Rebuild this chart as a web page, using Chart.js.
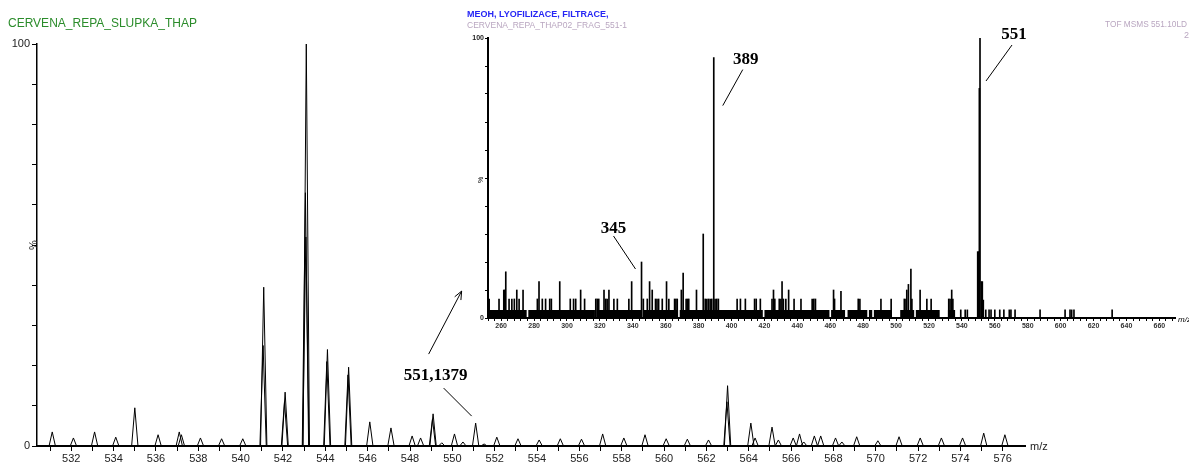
<!DOCTYPE html>
<html>
<head>
<meta charset="utf-8">
<script src="https://cdn.jsdelivr.net/npm/chart.js@4"></script>
<style>
body { margin: 0; background: #fff; }
#wrap { position: relative; width: 1189px; height: 465px; }
#main { position: absolute; left: 0; top: 0; }
#inset { position: absolute; left: 440px; top: 0; }
</style>
</head>
<body>
<div id="wrap">
<canvas id="main" width="1189" height="465"></canvas>
<canvas id="inset" width="749" height="340"></canvas>
</div>
<script>
// Main spectrum (m/z 530 - 577), peak centres and relative intensity (%)
const mainMz = [531.1, 532.1, 533.1, 534.1, 535.0, 536.1, 537.1, 537.2, 538.1, 539.1, 540.1,
    541.06, 541.09, 542.07, 542.1, 543.06, 543.08, 543.1, 544.07, 544.1, 545.07, 545.1,
    546.1, 547.1, 548.1, 548.5, 549.06, 549.09, 549.5, 550.1, 550.5, 551.1, 551.5,
    552.1, 553.1, 554.1, 555.1, 556.1, 557.1, 558.1, 559.1, 560.1, 561.1, 562.1,
    562.97, 563.0, 564.1, 564.3, 565.1, 565.4, 566.1, 566.4, 566.6, 567.1, 567.4,
    568.1, 568.4, 569.1, 570.1, 571.1, 572.1, 573.1, 574.1, 575.1, 576.1];
const mainInt = [3.5, 2, 3.5, 2.2, 9.5, 2.8, 3.5, 2.8, 2, 1.8, 1.8,
    25, 39.5, 11, 13.4, 63, 52, 100, 21, 24, 17.7, 19.6,
    6, 4.5, 2.5, 2, 6.7, 8, 0.8, 3, 1, 5.7, 0.5,
    2.2, 1.8, 1.5, 1.8, 1.7, 3, 2, 2.8, 1.8, 1.7, 1.5,
    11, 15, 5.7, 2, 4.7, 1.5, 2, 3, 1, 2.5, 2.5,
    2, 1, 2.3, 1.3, 2.3, 2, 2, 2, 3.2, 2.8];

// Inset MS/MS spectrum of 551: sticks (m/z, %)
const insetMz = [252.7, 258.7, 261.6, 262.2, 262.8, 264.8, 266.5, 268, 269.5, 270.9, 273.3,
    282, 283, 285, 287, 289.5, 290.5, 295.6, 302, 304, 305.3, 308.3, 310.7,
    317.5, 318.4, 319.3, 322.5, 323.5, 324.4, 325.5, 328.5, 330.6, 337.6, 339.3,
    345.3, 346.4, 348.8, 350.2, 351.8, 353.8, 354.7, 355.7, 357.9, 360.5, 361.9,
    365.4, 366.2, 367, 369.5, 370.6, 372.4, 373.2, 374, 378.7, 382.8,
    384, 385, 386, 387, 388, 389.2, 390, 391, 392,
    403.4, 405.4, 408.4, 414, 415, 417.5, 424.6, 425.5, 426.3, 429, 430, 430.7, 431.5,
    433, 434.7, 438, 442.2, 449, 450, 451, 462, 462.6, 466.5, 477, 478, 490.8, 497,
    505, 506, 506.5, 507.5, 509, 509.6, 514.6, 518.7, 521.3, 532, 532.8, 533.8, 534.5,
    539.3, 542, 543.3, 549.6, 550.2, 550.6, 551, 551.8, 552.4, 553,
    554.5, 556.5, 557.7, 560, 563, 565.5, 568.8, 569.8, 572.3, 587.5,
    602.7, 605.7, 606.7, 608.1, 631.3];
const insetInt = [6.8, 6.8, 10, 10, 16.5, 6.8, 6.8, 6.8, 10, 6.8, 10,
    6.8, 13, 6.8, 6.8, 6.8, 6.8, 13, 6.8, 6.8, 6.8, 10, 6.8,
    6.8, 6.8, 6.8, 10, 6.8, 6.8, 10, 6.8, 6.8, 6.8, 13,
    20, 6.8, 6.8, 13, 10, 6.8, 6.8, 6.8, 6.8, 13, 6.8,
    6.8, 6.8, 6.8, 10, 16, 6.8, 6.8, 6.8, 10, 30,
    6.8, 6.8, 6.8, 6.8, 6.8, 93, 6.8, 6.8, 6.8,
    6.8, 6.8, 6.8, 6.8, 6.8, 6.8, 6.8, 10, 6.8, 6.8, 6.8, 13, 6.8,
    6.8, 10, 6.8, 6.8, 6.8, 6.8, 6.8, 10, 6.8, 9.5, 6.8, 6.8, 6.8, 6.8,
    6.8, 6.8, 10, 12, 17.5, 6.8, 10, 6.8, 6.8, 6.8, 6.8, 10, 6.8,
    2.9, 2.9, 2.9, 23.7, 23.7, 82, 100, 13, 13, 6.4,
    2.9, 2.9, 2.9, 2.9, 2.9, 2.9, 2.9, 2.9, 2.9, 2.9,
    2.9, 2.9, 2.9, 2.9, 2.9];

// Inset dense noise floor: segment start / end (m/z) and level (%)
const noiseStart = [252.7, 276.5, 318, 346.5, 368.5, 420, 460.5, 470.5, 483.5, 486.5, 502.5, 512, 531.5];
const noiseEnd   = [275.5, 317, 345.5, 367.5, 419, 459.5, 469, 482.5, 485.5, 497.5, 511, 526.5, 536];
const noiseLevel = 2.9;

const PEAK_HALF_WIDTH = 0.15;

function peakTrace(mz, ints) {
    const pts = [];
    mz.forEach((m, i) => {
        pts.push({ x: m - PEAK_HALF_WIDTH, y: 0 }, { x: m, y: ints[i] }, { x: m + PEAK_HALF_WIDTH, y: 0 });
    });
    return pts;
}

function noiseTrace() {
    const pts = [];
    noiseStart.forEach((s, i) => {
        pts.push({ x: s, y: 0 }, { x: s, y: noiseLevel }, { x: noiseEnd[i], y: noiseLevel }, { x: noiseEnd[i], y: 0 });
    });
    return pts;
}

function integerTicks(from, to, step) {
    return (scale) => {
        const t = [];
        for (let v = from; v <= to; v += step) t.push({ value: v });
        scale.ticks = t;
    };
}

// leader line / arrow helper
function line(ctx, x1, y1, x2, y2) {
    ctx.beginPath();
    ctx.moveTo(x1, y1);
    ctx.lineTo(x2, y2);
    ctx.stroke();
}

const mainText = {
    id: 'mainText',
    afterDraw(chart) {
        const ctx = chart.ctx;
        const xs = chart.scales.x, ys = chart.scales.y;
        ctx.save();
        ctx.textBaseline = 'middle';
        ctx.fillStyle = '#2b8c2b';
        ctx.font = '12px "Liberation Sans", Arial, sans-serif';
        ctx.fillText('CERVENA_REPA_SLUPKA_THAP', 8, 24, 192);

        ctx.fillStyle = '#2626f5';
        ctx.font = 'bold 9px "Liberation Sans", Arial, sans-serif';
        ctx.fillText('MEOH, LYOFILIZACE, FILTRACE,', 467, 15, 151);
        ctx.fillStyle = '#b9a6c0';
        ctx.font = '9px "Liberation Sans", Arial, sans-serif';
        ctx.fillText('CERVENA_REPA_THAP02_FRAG_551-1', 467, 26, 160);
        ctx.fillText('TOF MSMS 551.10LD', 1105, 25, 82);
        ctx.fillText('2', 1184, 36);

        // y axis unit
        ctx.fillStyle = '#222';
        ctx.font = '11px "Liberation Sans", Arial, sans-serif';
        ctx.save();
        ctx.translate(34, 245);
        ctx.rotate(-Math.PI / 2);
        ctx.textAlign = 'center';
        ctx.fillText('%', 0, 0);
        ctx.restore();
        ctx.fillText('m/z', 1030, 447);

        // 551,1379 annotation with arrow to inset
        const px = xs.getPixelForValue(551.1), py = ys.getPixelForValue(5.7);
        ctx.fillStyle = '#000';
        ctx.textAlign = 'center';
        ctx.font = 'bold 17px "Liberation Serif", "Times New Roman", serif';
        ctx.fillText('551,1379', px - 40, py - 47);
        ctx.strokeStyle = '#000';
        ctx.lineWidth = 1;
        line(ctx, px - 32, py - 35, px - 4, py - 7);
        const ax1 = px - 47, ay1 = py - 69, ax2 = px - 14, ay2 = py - 132;
        line(ctx, ax1, ay1, ax2, ay2);
        const ang = Math.atan2(ay2 - ay1, ax2 - ax1);
        line(ctx, ax2, ay2, ax2 - 9 * Math.cos(ang - 0.4), ay2 - 9 * Math.sin(ang - 0.4));
        line(ctx, ax2, ay2, ax2 - 9 * Math.cos(ang + 0.4), ay2 - 9 * Math.sin(ang + 0.4));
        ctx.restore();
    }
};

const insetText = {
    id: 'insetText',
    afterDraw(chart) {
        const ctx = chart.ctx;
        const xs = chart.scales.x, ys = chart.scales.y;
        ctx.save();
        ctx.fillStyle = '#000';
        ctx.strokeStyle = '#000';
        ctx.lineWidth = 1;
        ctx.textAlign = 'center';
        ctx.textBaseline = 'middle';
        ctx.font = 'bold 17px "Liberation Serif", "Times New Roman", serif';
        const labels = [
            { m: 389.2, h: 93, text: '389', tx: 32, ty: 2, l: [29, 12, 9, 48] },
            { m: 551, h: 100, text: '551', tx: 34, ty: -3, l: [32, 7, 6, 43] },
            { m: 345.3, h: 20, text: '345', tx: -28, ty: -33, l: [-28, -26, -6, 7] }
        ];
        labels.forEach(a => {
            const px = xs.getPixelForValue(a.m), py = ys.getPixelForValue(a.h);
            ctx.fillText(a.text, px + a.tx, py + a.ty);
            line(ctx, px + a.l[0], py + a.l[1], px + a.l[2], py + a.l[3]);
        });
        ctx.font = '7px "Liberation Sans", Arial, sans-serif';
        ctx.save();
        ctx.translate(41, 180);
        ctx.rotate(-Math.PI / 2);
        ctx.fillText('%', 0, 0);
        ctx.restore();
        ctx.font = 'italic 8px "Liberation Sans", Arial, sans-serif';
        ctx.textAlign = 'left';
        ctx.fillText('m/z', 738, 320);
        ctx.restore();
    }
};

new Chart(document.getElementById('main'), {
    type: 'line',
    data: {
        datasets: [{
            data: peakTrace(mainMz, mainInt),
            borderColor: '#000',
            borderWidth: 1,
            pointRadius: 0,
            fill: false
        }]
    },
    options: {
        responsive: false,
        animation: false,
        layout: { padding: { top: 44, right: 164, left: 0, bottom: 0 } },
        plugins: { legend: { display: false }, tooltip: { enabled: false } },
        scales: {
            x: {
                type: 'linear',
                min: 530.38,
                max: 577.05,
                afterBuildTicks: integerTicks(531, 576, 1),
                afterFit: (s) => { s.height = 19; },
                border: { color: '#000', width: 2 },
                grid: { drawOnChartArea: false, tickLength: 5, color: '#000' },
                ticks: {
                    autoSkip: false,
                    maxRotation: 0,
                    padding: 1,
                    color: '#222',
                    font: { family: '"Liberation Sans", Arial, sans-serif', size: 11 },
                    callback: (v) => (v % 2 === 0 ? String(v) : '')
                }
            },
            y: {
                min: 0,
                max: 100,
                afterBuildTicks: integerTicks(0, 100, 10),
                afterFit: (s) => { s.width = 37; },
                border: { color: '#000', width: 1.5 },
                grid: { drawOnChartArea: false, tickLength: 5, color: '#000' },
                ticks: {
                    autoSkip: false,
                    padding: 2,
                    color: '#222',
                    font: { family: '"Liberation Sans", Arial, sans-serif', size: 11 },
                    callback: (v) => (v === 0 || v === 100 ? String(v) : '')
                }
            }
        }
    },
    plugins: [mainText]
});

new Chart(document.getElementById('inset'), {
    type: 'bar',
    data: {
        datasets: [{
            type: 'line',
            data: noiseTrace(),
            borderWidth: 0,
            borderColor: '#000',
            backgroundColor: '#000',
            pointRadius: 0,
            fill: 'origin'
        }, {
            type: 'bar',
            data: insetMz.map((m, i) => ({ x: m, y: insetInt[i] })),
            backgroundColor: '#000',
            barThickness: 1,
            grouped: false
        }]
    },
    options: {
        responsive: false,
        animation: false,
        layout: { padding: { top: 38, right: 14, left: 0, bottom: 0 } },
        plugins: { legend: { display: false }, tooltip: { enabled: false } },
        scales: {
            x: {
                type: 'linear',
                offset: false,
                min: 252,
                max: 669.5,
                afterBuildTicks: integerTicks(252, 668, 4),
                afterFit: (s) => { s.height = 22; },
                border: { color: '#000', width: 2 },
                grid: { drawOnChartArea: false, tickLength: 3, color: '#000', offset: false },
                ticks: {
                    autoSkip: false,
                    maxRotation: 0,
                    padding: 1,
                    color: '#333',
                    font: { family: '"Liberation Sans", Arial, sans-serif', size: 7, weight: 'bold' },
                    callback: (v) => (v % 20 === 0 ? String(v) : '')
                }
            },
            y: {
                min: 0,
                max: 100,
                afterBuildTicks: integerTicks(0, 100, 10),
                afterFit: (s) => { s.width = 48; },
                border: { color: '#000', width: 2 },
                grid: { drawOnChartArea: false, tickLength: 3, color: '#000' },
                ticks: {
                    autoSkip: false,
                    padding: 1,
                    color: '#222',
                    font: { family: '"Liberation Sans", Arial, sans-serif', size: 7, weight: 'bold' },
                    callback: (v) => (v === 0 || v === 100 ? String(v) : '')
                }
            }
        }
    },
    plugins: [insetText]
});
</script>
</body>
</html>
